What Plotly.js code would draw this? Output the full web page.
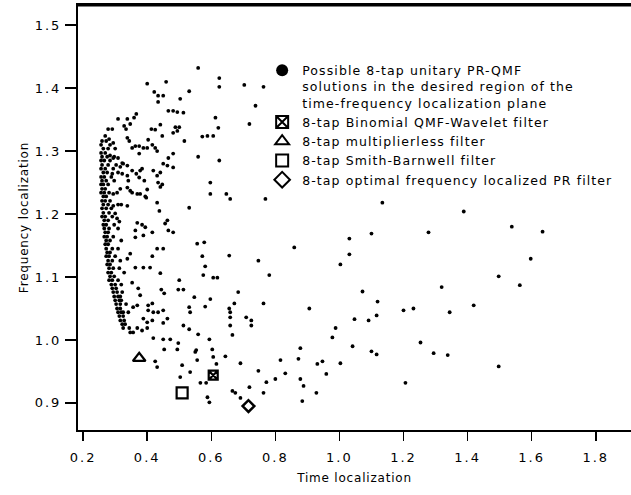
<!DOCTYPE html>
<html>
<head>
<meta charset="utf-8">
<script src="https://cdn.plot.ly/plotly-3.0.1.min.js"></script>
<style>
html,body{margin:0;padding:0;background:#fff;}
#chart .legendtext{letter-spacing:1.1px;}
#chart .legend .scrollbox{clip-path:none !important;}
#chart .xtick text,#chart .ytick text{letter-spacing:2px;}
#chart .xtitle,#chart .ytitle{letter-spacing:0.8px;}
</style>
</head>
<body>
<div id="chart" style="width:631px;height:495px;"></div>
<script>
// Scattered solutions (time localization, frequency localization)
const scatterTime = [
0.559,0.400,0.459,0.625,0.625,0.703,0.763,0.531,0.422,0.434,0.450,0.434,0.503,0.466,0.481,0.494,0.513,0.366,0.738,0.338,
0.347,0.309,0.359,0.613,0.413,0.425,0.441,0.488,0.500,0.622,0.719,0.278,0.291,0.269,0.281,0.328,0.334,0.447,0.516,0.572,
0.588,0.606,0.338,0.344,0.353,0.363,0.375,0.388,0.400,0.416,0.425,0.431,0.481,0.466,0.559,0.625,0.309,0.325,0.375,0.450,
0.463,0.481,0.338,0.353,0.338,0.341,0.366,0.375,0.391,0.431,0.434,0.447,0.597,0.597,0.647,0.659,0.769,0.400,0.397,0.353,
0.369,0.378,0.431,0.531,0.438,0.284,0.294,0.309,0.319,0.338,0.300,0.306,0.313,0.369,0.384,0.394,0.416,0.463,0.466,0.481,
0.556,0.578,0.859,0.450,0.431,1.134,1.388,1.538,1.634,1.031,1.100,1.278,1.031,1.003,1.319,1.597,1.497,1.563,1.072,1.119,
0.906,1.200,1.231,1.419,1.344,1.047,1.091,1.116,0.988,0.978,1.253,1.041,1.100,1.116,1.294,1.338,0.878,0.931,0.947,1.003,
1.497,0.959,0.878,0.888,1.206,0.928,0.884,0.816,0.872,0.831,0.656,0.416,0.572,0.747,0.581,0.781,0.441,0.575,0.606,0.619,
0.500,0.497,0.513,0.444,0.453,0.684,0.547,0.597,0.763,0.672,0.656,0.659,0.531,0.534,0.581,0.416,0.403,0.419,0.450,0.659,
0.659,0.709,0.725,0.725,0.463,0.450,0.513,0.531,0.559,0.666,0.594,0.419,0.450,0.472,0.497,0.453,0.494,0.553,0.550,0.603,
0.644,0.606,0.556,0.691,0.616,0.509,0.425,0.431,0.747,0.534,0.503,0.800,0.772,0.566,0.584,0.719,0.666,0.675,0.763,0.588,
0.594,0.691,0.456,0.363,0.388,0.363,0.347,0.338,0.363,0.388,0.409,0.353,0.372,0.378,0.403,0.369,0.325,0.356,0.434,0.388,
0.400,0.416,0.347,0.356,0.384,0.400,0.344,0.369,0.294,0.481,0.494,0.403,0.284,0.294,0.322,0.316,0.384,0.378,0.294,0.291,
0.322,0.419,0.441,0.338,0.347,0.306,0.294,0.394,0.441
];
const scatterFreq = [
1.432,1.407,1.410,1.416,1.402,1.405,1.402,1.395,1.394,1.388,1.388,1.378,1.383,1.364,1.364,1.362,1.361,1.359,1.372,1.351,
1.343,1.351,1.353,1.353,1.335,1.334,1.342,1.338,1.338,1.337,1.343,1.335,1.335,1.324,1.319,1.340,1.335,1.324,1.316,1.323,
1.324,1.324,1.321,1.316,1.305,1.308,1.308,1.305,1.305,1.310,1.305,1.300,1.296,1.289,1.291,1.285,1.289,1.280,1.296,1.280,
1.277,1.274,1.277,1.269,1.261,1.253,1.264,1.258,1.253,1.261,1.250,1.247,1.250,1.232,1.232,1.224,1.224,1.239,1.226,1.234,
1.232,1.232,1.218,1.210,1.205,1.221,1.213,1.215,1.215,1.213,1.201,1.193,1.188,1.186,1.183,1.179,1.171,1.190,1.174,1.171,
1.153,1.155,1.147,1.145,1.145,1.218,1.204,1.180,1.172,1.161,1.169,1.171,1.136,1.120,1.084,1.129,1.101,1.087,1.077,1.061,
1.050,1.047,1.050,1.055,1.044,1.033,1.031,1.039,1.019,1.004,0.996,0.990,0.982,0.977,0.979,0.976,0.987,0.962,0.966,0.963,
0.958,0.946,0.938,0.927,0.932,0.916,0.903,0.968,0.970,0.947,1.134,1.133,1.133,1.126,1.117,1.103,1.106,1.103,1.099,1.099,
1.095,1.080,1.080,1.080,1.074,1.076,1.068,1.065,1.058,1.058,1.050,1.044,1.052,1.044,1.053,1.058,1.047,1.044,1.047,1.036,
1.023,1.036,1.031,1.023,1.034,1.027,1.023,1.017,1.009,1.008,1.001,1.003,1.001,1.001,0.995,0.985,0.985,0.984,0.981,0.985,
0.974,0.973,0.968,0.963,0.962,0.960,0.966,0.957,0.951,0.949,0.941,0.938,0.933,0.932,0.932,0.925,0.919,0.916,0.916,0.909,
0.901,0.908,1.185,1.174,1.166,1.163,1.137,1.129,1.115,1.115,1.115,1.091,1.082,1.071,1.055,1.055,1.044,1.052,1.044,1.034,
1.028,1.031,1.012,1.012,1.015,1.019,1.019,1.019,1.313,1.329,1.332,1.318,1.293,1.289,1.281,1.275,1.272,1.269,1.272,1.264,
1.264,1.269,1.266,1.242,1.237,1.234,1.232,1.228,1.243
];
// Dense band of solutions near the left edge
const clusterTime = [
0.259,0.272, 0.256,0.284, 0.263,0.278,0.300, 0.256,0.269, 0.259,0.275,0.297, 0.256,0.266,0.284, 0.259,0.278,0.303,
0.256,0.269, 0.263,0.275,0.309, 0.256,0.266,0.288, 0.259,0.272,0.297, 0.256,0.263,0.278, 0.259,0.269,0.316,
0.256,0.266,0.281, 0.263,0.272, 0.259,0.269, 0.263,0.278, 0.259,0.272,0.288, 0.263,0.281, 0.259,0.269,0.291,
0.266,0.278, 0.263,0.272,0.297, 0.266,0.281,0.309, 0.269,0.278, 0.266,0.275,0.294, 0.272,0.284,0.319,
0.269,0.278, 0.272,0.291,0.309, 0.275,0.284, 0.272,0.281,0.300, 0.278,0.291,0.316, 0.275,0.284,
0.281,0.294,0.313, 0.278,0.288,0.328, 0.284,0.297, 0.281,0.291,0.309, 0.288,0.300,0.319, 0.291,0.303,
0.294,0.306,0.322, 0.297,0.309,0.316, 0.300,0.313,0.319, 0.303,0.316,0.334, 0.306,0.316, 0.309,0.319,0.341,
0.313,0.325, 0.316,0.328, 0.322,0.331, 0.325
];
const clusterFreq = [
1.316,1.316, 1.310,1.310, 1.304,1.304,1.304, 1.297,1.297, 1.291,1.291,1.291, 1.285,1.285,1.285, 1.278,1.278,1.278,
1.272,1.272, 1.266,1.266,1.266, 1.259,1.259,1.259, 1.253,1.253,1.253, 1.247,1.247,1.247, 1.240,1.240,1.240,
1.234,1.234,1.234, 1.228,1.228, 1.221,1.221, 1.215,1.215, 1.209,1.209,1.209, 1.202,1.202, 1.196,1.196,1.196,
1.190,1.190, 1.183,1.183,1.183, 1.177,1.177,1.177, 1.171,1.171, 1.164,1.164,1.164, 1.158,1.158,1.158,
1.152,1.152, 1.145,1.145,1.145, 1.139,1.139, 1.133,1.133,1.133, 1.126,1.126,1.126, 1.120,1.120,
1.114,1.114,1.114, 1.107,1.107,1.107, 1.101,1.101, 1.095,1.095,1.095, 1.088,1.088,1.088, 1.082,1.082,
1.076,1.076,1.076, 1.069,1.069,1.069, 1.063,1.063,1.063, 1.057,1.057,1.057, 1.050,1.050, 1.044,1.044,1.044,
1.038,1.038, 1.031,1.031, 1.025,1.025, 1.019
];
// Named filters
const binomialTime = [0.606], binomialFreq = [0.944];
const multiplierlessTime = [0.375], multiplierlessFreq = [0.971];
const smithTime = [0.509], smithFreq = [0.916];
const optimalTime = [0.716], optimalFreq = [0.895];

const xTickVals = [0.2,0.4,0.6,0.8,1.0,1.2,1.4,1.6,1.8];
const xTickText = ['0.2','0.4','0.6','0.8','1.0','1.2','1.4','1.6','1.8'];
const yTickVals = [0.9,1.0,1.1,1.2,1.3,1.4,1.5];
const yTickText = ['0.9','1.0','1.1','1.2','1.3','1.4','1.5'];

const names = [
  'Possible 8-tap unitary PR-QMF<br>solutions in the desired region of the<br>time-frequency localization plane',
  '8-tap Binomial QMF-Wavelet filter',
  '8-tap multiplierless filter',
  '8-tap Smith-Barnwell filter',
  '8-tap optimal frequency localized PR filter'
];

const traces = [
  {x: scatterTime.concat(clusterTime), y: scatterFreq.concat(clusterFreq), type:'scatter', mode:'markers',
   name:names[0], marker:{symbol:'circle', size:3.8, color:'#000'}, hoverinfo:'skip'},
  {x: binomialTime, y: binomialFreq, type:'scatter', mode:'markers', name:names[1],
   marker:{symbol:'square-x-open', size:9, color:'#000', line:{width:2.2, color:'#000'}}, hoverinfo:'skip'},
  {x: multiplierlessTime, y: multiplierlessFreq, type:'scatter', mode:'markers', name:names[2],
   marker:{symbol:'triangle-up-open', size:11, color:'#000', line:{width:2.2, color:'#000'}}, hoverinfo:'skip'},
  {x: smithTime, y: smithFreq, type:'scatter', mode:'markers', name:names[3],
   marker:{symbol:'square-open', size:11, color:'#000', line:{width:2.2, color:'#000'}}, hoverinfo:'skip'},
  {x: optimalTime, y: optimalFreq, type:'scatter', mode:'markers', name:names[4],
   marker:{symbol:'diamond-open', size:9, color:'#000', line:{width:2.5, color:'#000'}}, hoverinfo:'skip'}
];

const layout = {
  width:631, height:495,
  margin:{l:78, r:0, t:5, b:65},
  paper_bgcolor:'#fff', plot_bgcolor:'#fff',
  font:{family:'"DejaVu Sans", "Liberation Sans", sans-serif', color:'#000', size:13},
  showlegend:true,
  legend:{x:0.333, y:0.881, xanchor:'left', yanchor:'top', bgcolor:'rgba(0,0,0,0)',
          font:{size:12.5, color:'#000'}, itemsizing:'constant', valign:'top', tracegroupgap:0},
  shapes:[{type:'line', xref:'paper', yref:'paper', x0:0, x1:1, y0:1, y1:1, layer:'above', line:{color:'#000', width:3}}],
  xaxis:{range:[0.184,1.91], tickmode:'array', tickvals:xTickVals, ticktext:xTickText,
         ticks:'outside', ticklen:9, tickwidth:1.5, tickcolor:'#000',
         showline:true, linewidth:2, linecolor:'#000', mirror:true,
         showgrid:false, zeroline:false, ticklabelstandoff:5,
         tickfont:{size:13, color:'#000'},
         title:{text:'Time localization', font:{size:12, color:'#000'}, standoff:10}},
  yaxis:{range:[0.857,1.532], tickmode:'array', tickvals:yTickVals, ticktext:yTickText,
         ticks:'outside', ticklen:11, tickwidth:1.5, tickcolor:'#000',
         showline:true, linewidth:2, linecolor:'#000',
         showgrid:false, zeroline:false, ticklabelstandoff:1,
         tickfont:{size:13, color:'#000'},
         title:{text:'Frequency localization', font:{size:12, color:'#000'}, standoff:10}}
};

Plotly.newPlot('chart', traces, layout, {staticPlot:true, displayModeBar:false});
</script>
</body>
</html>
